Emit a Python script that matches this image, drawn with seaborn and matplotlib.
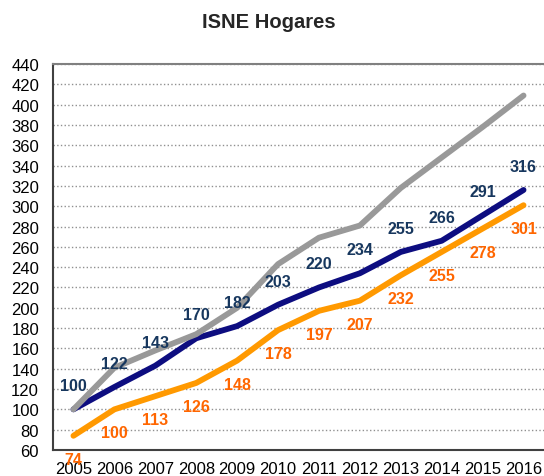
import pandas as pd
import seaborn as sns
import matplotlib.pyplot as plt
from matplotlib.ticker import MultipleLocator, FixedLocator

# Datos
anios = ['2005', '2006', '2007', '2008', '2009', '2010',
         '2011', '2012', '2013', '2014', '2015', '2016']
serie_gris = [100, 141, 158, 174, 200, 243, 269, 281, 318, 348, 378, 409]
serie_azul = [100, 122, 143, 170, 182, 203, 220, 234, 255, 266, 291, 316]
serie_naranja = [74, 100, 113, 126, 148, 178, 197, 207, 232, 255, 278, 301]

sns.set_style('white')
plt.rcParams['font.family'] = ['Liberation Sans', 'DejaVu Sans']

# Dataframe en formato largo
df = pd.DataFrame({
    'pos': list(range(len(anios))) * 3,
    'valor': serie_gris + serie_azul + serie_naranja,
    'serie': ['gris'] * 12 + ['azul'] * 12 + ['naranja'] * 12,
})
colores = {'gris': '#999999', 'azul': '#0d0d80', 'naranja': '#ff9900'}

fig = plt.figure(figsize=(5.44, 4.77), dpi=100)
ax = fig.add_axes([0.0974, 0.0545, 0.9026, 0.8092])

for nombre in ['azul', 'naranja', 'gris']:
    sns.lineplot(data=df[df['serie'] == nombre], x='pos', y='valor',
                 color=colores[nombre], linewidth=4.2, ax=ax,
                 solid_capstyle='round', solid_joinstyle='round', legend=False)

# Etiquetas de datos
for i, v in enumerate(serie_azul):
    ax.annotate(str(v), (i, v), xytext=(0, 17), textcoords='offset points',
                ha='center', va='center', fontsize=11.5, fontweight='bold',
                color='#17375e')
for i, v in enumerate(serie_naranja):
    ax.annotate(str(v), (i, v), xytext=(0, -17), textcoords='offset points',
                ha='center', va='center', fontsize=11.5, fontweight='bold',
                color='#ff6600')

# Ejes
ax.set_xlim(-0.5, 11.5)
ax.set_ylim(60, 440)
ax.yaxis.set_major_locator(MultipleLocator(20))
ax.set_xticks(range(len(anios)))
ax.set_xticklabels(anios)
ax.xaxis.set_minor_locator(FixedLocator([x - 0.5 for x in range(13)]))
ax.tick_params(axis='x', which='major', length=0, labelsize=12, pad=8, colors='black')
ax.tick_params(axis='x', which='minor', length=5, width=1, color='#404040', direction='out')
ax.tick_params(axis='y', length=4, width=1, color='#404040', direction='out',
               labelsize=12, pad=6, labelcolor='black')
ax.set_xlabel('')
ax.set_ylabel('')

ax.grid(axis='y', linestyle=':', color='#909090', linewidth=1)
ax.set_axisbelow(True)

ax.spines['left'].set_color('#404040')
ax.spines['left'].set_linewidth(1.5)
ax.spines['bottom'].set_color('#404040')
ax.spines['bottom'].set_linewidth(1.5)
ax.spines['top'].set_color('#808080')
ax.spines['top'].set_linewidth(1.5)
ax.spines['right'].set_visible(False)

fig.text(0.495, 0.953, 'ISNE Hogares', ha='center', va='center',
         fontsize=14.5, fontweight='bold')

fig.savefig('out.png', dpi=100)
